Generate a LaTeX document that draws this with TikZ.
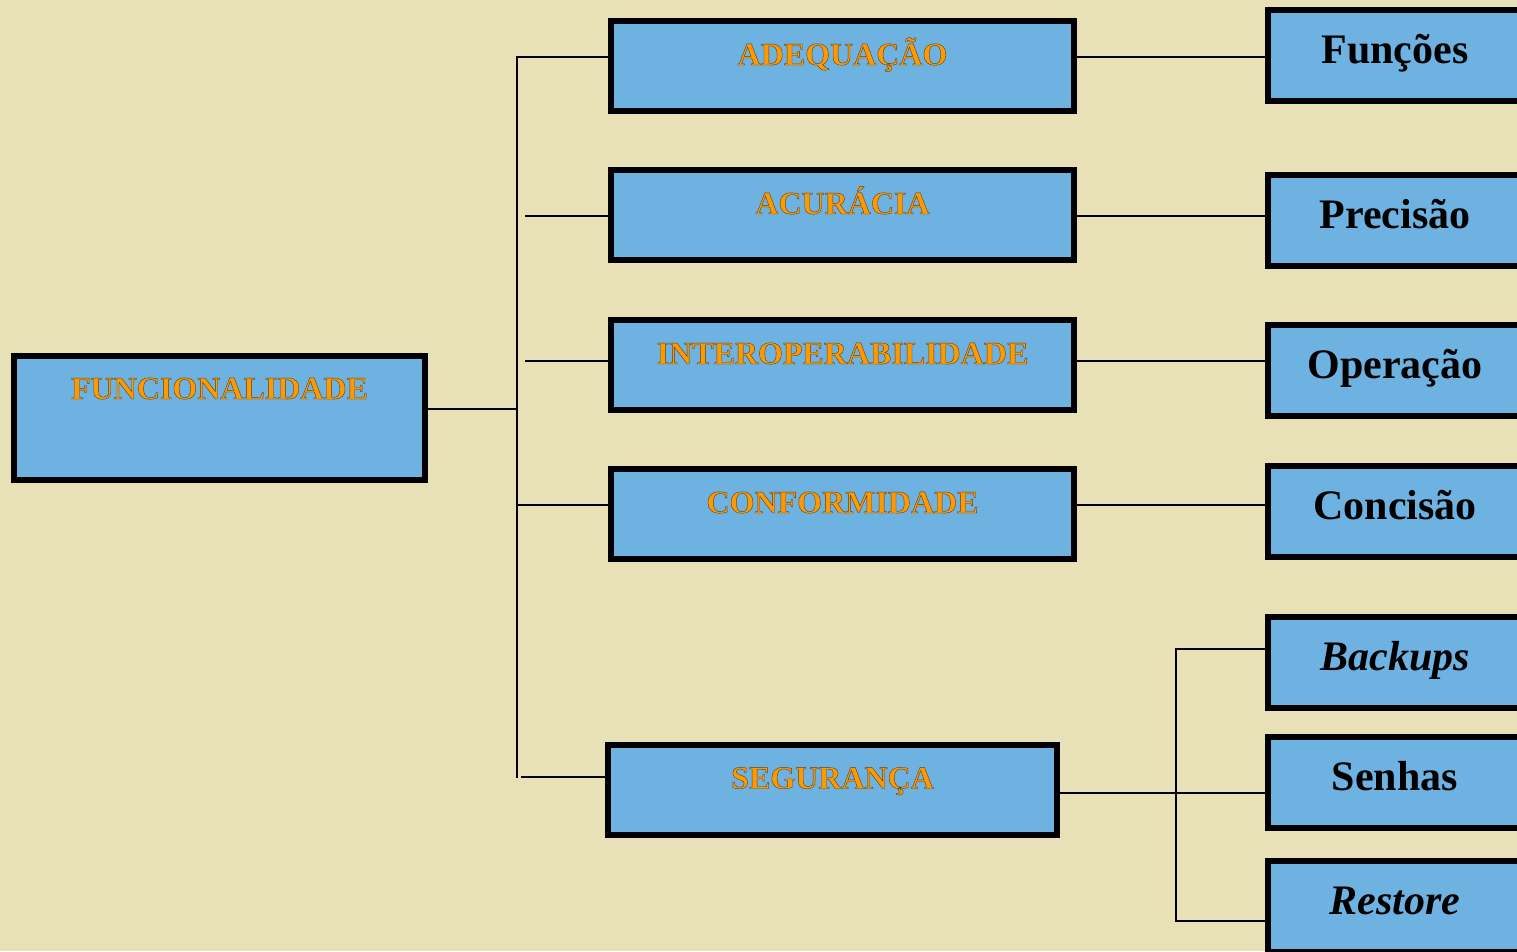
\documentclass[tikz,border=0pt]{standalone}
\usepackage{fontspec}
\setmainfont{Liberation Serif}
\definecolor{bgc}{RGB}{232,225,184}
\definecolor{boxc}{RGB}{110,178,226}
\definecolor{orangec}{RGB}{255,153,0}
\newcommand{\shtext}[1]{\special{pdf:literal direct 2 Tr 0.4 w 0.35 0.25 0.10 RG}#1\special{pdf:literal direct 0 Tr}}
\begin{document}
\begin{tikzpicture}[x=1pt,y=-1pt,
  box/.style={draw=black, line width=6pt, fill=boxc, inner sep=0pt, outer sep=0pt},
  midbox/.style={box, minimum width=463, minimum height=90, text height=21, text depth=23,
    font=\bfseries\fontsize{32}{36}\selectfont, text=orangec},
  rightbox/.style={box, minimum width=254, minimum height=91, text height=28, text depth=12,
    font=\bfseries\fontsize{42}{48}\selectfont, text=black},
  conn/.style={draw=black, line width=2.8pt}]
\clip (0,0) rectangle (1517,951);
\fill[bgc] (0,0) rectangle (1517,951);

% left box
\node[box, minimum width=411, minimum height=124, text height=21, text depth=59,
  font=\bfseries\fontsize{32}{36}\selectfont, text=orangec] (func) at (219.5,418) {\shtext{FUNCIONALIDADE}};

% middle boxes
\node[midbox] (adeq) at (842.5,66) {\shtext{ADEQUAÇÃO}};
\node[midbox] (acur) at (842.5,215) {\shtext{ACURÁCIA}};
\node[midbox] (inter) at (842.5,365) {\shtext{INTEROPERABILIDADE}};
\node[midbox] (conf) at (842.5,514) {\shtext{CONFORMIDADE}};
\node[midbox, minimum width=449] (seg) at (832.5,789.5) {\shtext{SEGURANÇA}};

% right boxes
\node[rightbox] (fun) at (1395,55.5) {Funções};
\node[rightbox] (prec) at (1395,220) {Precisão};
\node[rightbox] (oper) at (1395,370) {Operação};
\node[rightbox] (conc) at (1395,511.5) {Concisão};
\node[rightbox] (back) at (1395,662) {\textit{Backups}};
\node[rightbox] (senh) at (1395,782) {Senhas};
\node[rightbox] (rest) at (1395,906.5) {\textit{Restore}};

% left tree
\coordinate (ttop) at (517,57);
\coordinate (tbot) at (517,778);
\coordinate (a1) at (525,216);
\coordinate (i1) at (525,361);
\coordinate (f1) at (517,409);
\coordinate (c1) at (517,505);
\coordinate (sbr) at (521,777);
\draw[conn] (ttop -| adeq.west) -- (ttop) -- (tbot);
\draw[conn] (a1) -- (a1 -| acur.west);
\draw[conn] (i1) -- (i1 -| inter.west);
\draw[conn] (f1 -| func.east) -- (f1);
\draw[conn] (c1) -- (c1 -| conf.west);
\draw[conn] (sbr) -- (sbr -| seg.west);

% right connectors
\coordinate (r1) at (1170,57);
\coordinate (r2) at (1170,216);
\coordinate (r3) at (1170,361);
\coordinate (r4) at (1170,505);
\draw[conn] (r1 -| adeq.east) -- (r1 -| fun.west);
\draw[conn] (r2 -| acur.east) -- (r2 -| prec.west);
\draw[conn] (r3 -| inter.east) -- (r3 -| oper.west);
\draw[conn] (r4 -| conf.east) -- (r4 -| conc.west);

\coordinate (s0) at (1176,793);
\coordinate (sb) at (1176,649);
\coordinate (sr) at (1176,921);
\draw[conn] (s0 -| seg.east) -- (s0 -| senh.west);
\draw[conn] (sb -| back.west) -- (sb) -- (sr) -- (sr -| rest.west);
\end{tikzpicture}
\end{document}
